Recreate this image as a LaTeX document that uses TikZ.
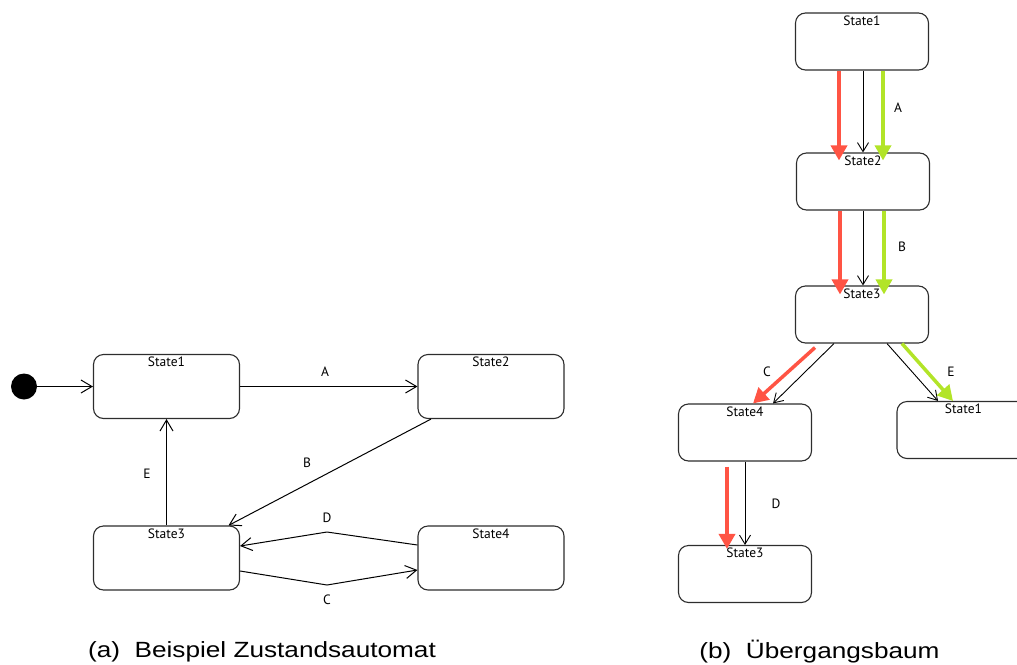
\documentclass[tikz,border=0pt]{standalone}
\usepackage{fontspec}
\usepackage{graphicx}
\setmainfont{Liberation Sans}
\newfontfamily\statefont{PT Sans}
\usetikzlibrary{arrows.meta}
\definecolor{pathred}{RGB}{255,84,68}
\definecolor{pathgreen}{RGB}{178,228,40}
\definecolor{boxline}{RGB}{45,45,45}
\tikzset{
  state/.style={draw=boxline, line width=1.1pt, rounded corners=10pt,
    minimum width=146pt, minimum height=64pt, inner sep=0pt},
  rstate/.style={state, minimum width=133pt, minimum height=57pt},
  stname/.style={label={[inner sep=0pt, anchor=north, yshift=-3pt,
    font=\statefont\fontsize{13.5}{13.5}\selectfont]north:#1}},
  trans/.style={draw=black, line width=1pt, -{Straight Barb[length=11pt,width=13pt,line width=1pt]}},
  rtrans/.style={draw=black, line width=0.9pt, -{Straight Barb[length=9pt,width=11pt,line width=0.9pt]}},
  redpath/.style={draw=pathred, line width=3.5pt, -{Triangle[length=15pt,width=16pt]}},
  greenpath/.style={draw=pathgreen, line width=3.5pt, -{Triangle[length=15pt,width=16pt]}},
  tlabel/.style={font=\statefont\fontsize{13.5}{13.5}\selectfont, inner sep=0pt},
  caption/.style={font=\fontsize{22}{22}\selectfont, inner sep=0pt}
}
\begin{document}
\begin{tikzpicture}[x=1pt,y=-1pt]
\useasboundingbox (0,0) rectangle (1017,664);
\clip (0,0) rectangle (1017,664);

% ---- (a) state machine ----
\node[circle, fill=black, minimum size=26pt, inner sep=0pt] (init) at (24,386.5) {};
\node[state, stname=State1] (s1) at (166.5,386.5) {};
\node[state, stname=State2] (s2) at (491,386.5) {};
\node[state, stname=State3] (s3) at (166.5,558) {};
\node[state, stname=State4] (s4) at (491,558) {};

\coordinate (dpk) at (327,532);
\coordinate (cpk) at (327,585);

\draw[trans] (init) -- (s1);
\draw[trans] (s1) -- (s2);
\draw[trans] ([xshift=-60pt]s2.south) -- ([xshift=62pt]s3.north);
\draw[trans] (s3.north) -- (s1.south);
\draw[trans] ([yshift=13pt]s4.west) -- (dpk) -- ([yshift=12pt]s3.east);
\draw[trans] ([yshift=-13pt]s3.east) -- (cpk) -- ([yshift=-12pt]s4.west);

\node[tlabel] (la) at (325,372) {A};
\node[tlabel] (lb) at (307,463) {B};
\node[tlabel] (le) at (147,474) {E};
\node[tlabel] (ld) at (327,518) {D};
\node[tlabel] (lc) at (327,600) {C};

% ---- (b) transition tree ----
\node[rstate, stname=State1] (r1) at (862,41.5) {};
\node[rstate, stname=State2] (r2) at (863,181.5) {};
\node[rstate, stname=State3] (r3) at (862,314.5) {};
\node[rstate, stname=State4] (r4) at (745,432.5) {};
\node[rstate, stname=State1] (r5) at (963.5,430) {};
\node[rstate, stname=State3] (r6) at (745,574) {};

\draw[rtrans] (r2.north |- r1.south) -- (r2.north);
\draw[rtrans] (r2.south) -- (r2.south |- r3.north);
\draw[rtrans] ([xshift=-28pt]r3.south) -- ([xshift=28pt]r4.north);
\draw[rtrans] ([xshift=25pt]r3.south) -- ([xshift=-25.5pt]r5.north);
\draw[rtrans] (r4.south) -- (r6.north);

\draw[redpath] ([xshift=-23pt]r1.south) -- ([xshift=-24pt,yshift=-8pt]r2.north);
\draw[greenpath] ([xshift=21pt]r1.south) -- ([xshift=20pt,yshift=-8pt]r2.north);
\draw[redpath] ([xshift=-23pt]r2.south) -- ([xshift=-22pt,yshift=-9pt]r3.north);
\draw[greenpath] ([xshift=21pt]r2.south) -- ([xshift=22pt,yshift=-9pt]r3.north);
\draw[redpath] ([xshift=-47pt,yshift=-4pt]r3.south) -- ([xshift=8pt]r4.north);
\draw[greenpath] ([xshift=40pt]r3.south) -- ([xshift=-10.5pt]r5.north);
\draw[redpath] ([xshift=-18pt,yshift=-5pt]r4.south) -- ([xshift=-18pt,yshift=-4pt]r6.north);

\node[tlabel] (ra) at (898,108) {A};
\node[tlabel] (rb) at (902,247) {B};
\node[tlabel] (rc) at (767,372) {C};
\node[tlabel] (re) at (951,372) {E};
\node[tlabel] (rd) at (776,504) {D};

% ---- captions (set slightly wide) ----
\node[caption] (capa) at (262,652) {\scalebox{1.19}[1]{(a)\ \ Beispiel Zustandsautomat}};
\node[caption] (capb) at (819.5,652) {\scalebox{1.19}[1]{(b)\ \ Übergangsbaum}};
\end{tikzpicture}
\end{document}
